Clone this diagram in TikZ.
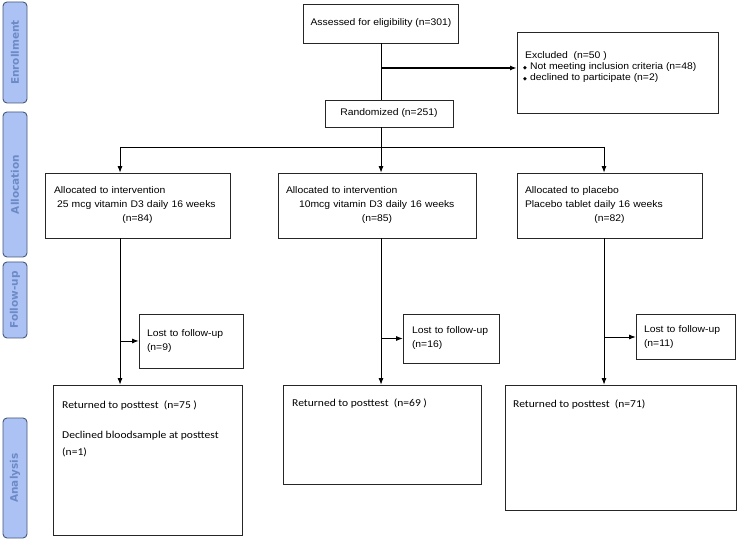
\documentclass[tikz,border=0pt]{standalone}
\usepackage{fontspec}
\setmainfont{Liberation Sans}[FakeStretch=1.08]
\newfontfamily\anfont{Carlito}[FakeStretch=1.1]
\newfontfamily\tabfont{DejaVu Sans}
\usetikzlibrary{arrows.meta}

\definecolor{tabfill}{RGB}{172,194,245}
\definecolor{tabline}{RGB}{72,88,122}
\definecolor{tabtext}{RGB}{108,138,198}

\newcommand{\bul}{{\tabfont\fontsize{5}{5}\selectfont ◆}}
\newcommand{\midline}[1]{\makebox[\linewidth][c]{#1}}
\newcommand{\tabname}[1]{\rotatebox{90}{#1}}

\tikzset{
  box/.style={draw=black!85, line width=0.8pt, inner sep=0pt, font=\fontsize{9.6}{14}\selectfont},
  tab/.style={draw=tabline, fill=tabfill, line width=0.9pt, rounded corners=4pt, minimum width=24pt,
    inner sep=0pt, text=tabtext, font=\tabfont\bfseries\fontsize{10.5}{12}\selectfont},
  conn/.style={line width=0.8pt},
  arr/.style={conn, -{Latex[length=6.5pt,width=5pt]}}
}

\begin{document}
\begin{tikzpicture}[x=1pt, y=1pt]
\useasboundingbox (0,0) rectangle (738,543);

% stage tabs
\node[tab, minimum height=101pt] (tenrol) at (15,490.5) {\tabname{Enrollment}};
\node[tab, minimum height=145pt] (talloc) at (15,358.5) {\tabname{Allocation}};
\node[tab, minimum height=76pt] (tfollow) at (15,243) {\tabname{Follow-up}};
\node[tab, minimum height=120pt] (tanal) at (15,65) {\tabname{Analysis}};

% enrollment
\node[box, minimum width=155pt, minimum height=39pt] (assess) at (381,519.5) {Assessed for eligibility (n=301)};
\node[box, minimum width=128pt, minimum height=27pt] (rand) at (389,429.5) {Randomized (n=251)};
\node[box, minimum width=201pt, minimum height=81pt] (excl) at (617.5,470.5) {};
\node[anchor=north west, inner sep=0pt, align=left, font=\fontsize{9.6}{11}\selectfont] (excltxt) at (522,491.5)
  {\hspace*{3pt}Excluded\ \ (n=50 )\\
   \hspace*{1pt}\bul\hspace{3pt}Not meeting inclusion criteria (n=48)\\
   \hspace*{1pt}\bul\hspace{3pt}declined to participate (n=2)};

% allocation
\node[box, minimum width=185pt, minimum height=65pt, text width=167pt, inner xsep=9pt, align=left] (al1) at (137.5,337.5)
  {Allocated to intervention\\ \hspace*{3pt}25 mcg vitamin D3 daily 16 weeks\\ \midline{(n=84)}};
\node[box, minimum width=198pt, minimum height=65pt, text width=182pt, inner xsep=8pt, align=left] (al2) at (377,337.5)
  {Allocated to intervention\\ \hspace*{13pt}10mcg vitamin D3 daily 16 weeks\\ \midline{(n=85)}};
\node[box, minimum width=185pt, minimum height=65pt, text width=169pt, inner xsep=8pt, align=left] (al3) at (609.5,337.5)
  {Allocated to placebo\\ Placebo tablet daily 16 weeks\\ \midline{(n=82)}};

% follow-up
\node[box, minimum width=104pt, minimum height=54pt, text width=88pt, inner xsep=8pt, align=left] (lost1) at (191,202)
  {Lost to follow-up\\ (n=9)};
\node[box, minimum width=96pt, minimum height=49pt, text width=78pt, inner xsep=9pt, align=left] (lost2) at (451,204.5)
  {Lost to follow-up\\ (n=16)};
\node[box, minimum width=99pt, minimum height=45pt, text width=83pt, inner xsep=8pt, align=left] (lost3) at (685.5,206)
  {Lost to follow-up\\ (n=11)};

% analysis
\node[box, minimum width=189pt, minimum height=150pt] (an1) at (147.5,83) {};
\node[box, minimum width=198pt, minimum height=99pt] (an2) at (382,108.5) {};
\node[box, minimum width=231pt, minimum height=125pt] (an3) at (620.5,95.5) {};
\node[anchor=north west, inner sep=0pt, align=left, font=\anfont\fontsize{10.5}{17}\selectfont] (an1txt) at (62,142.5)
  {Returned to posttest\ \ (n=75 )\\[13pt] Declined bloodsample at posttest\\ (n=1)};
\node[anchor=north west, inner sep=0pt, font=\anfont\fontsize{10.5}{17}\selectfont] (an2txt) at (292,144)
  {Returned to posttest\ \ (n=69 )};
\node[anchor=north west, inner sep=0pt, font=\anfont\fontsize{10.5}{17}\selectfont] (an3txt) at (513,143)
  {Returned to posttest\ \ (n=71)};

% connectors
\coordinate (exbr) at (381,475);
\coordinate (split) at (381,396);
\coordinate (c1) at (120,396);
\coordinate (c3) at (604,396);
\draw[conn] (assess.south) -- (rand.north -| assess.south);
\draw[arr, line width=1.4pt] (exbr) -- (exbr -| excl.west);
\draw[conn] (rand.south -| split) -- (split);
\draw[conn] (c1) -- (c3);
\draw[arr] (c1) -- (c1 |- al1.north);
\draw[arr] (split) -- (split |- al2.north);
\draw[arr] (c3) -- (c3 |- al3.north);
\draw[arr] (c1 |- al1.south) -- (c1 |- an1.north);
\draw[arr] (split |- al2.south) -- (split |- an2.north);
\draw[arr] (c3 |- al3.south) -- (c3 |- an3.north);
\draw[arr] (c1 |- lost1.west) -- (lost1.west);
\draw[arr] (split |- lost2.west) -- (lost2.west);
\draw[arr] (c3 |- lost3.west) -- (lost3.west);
\end{tikzpicture}
\end{document}
